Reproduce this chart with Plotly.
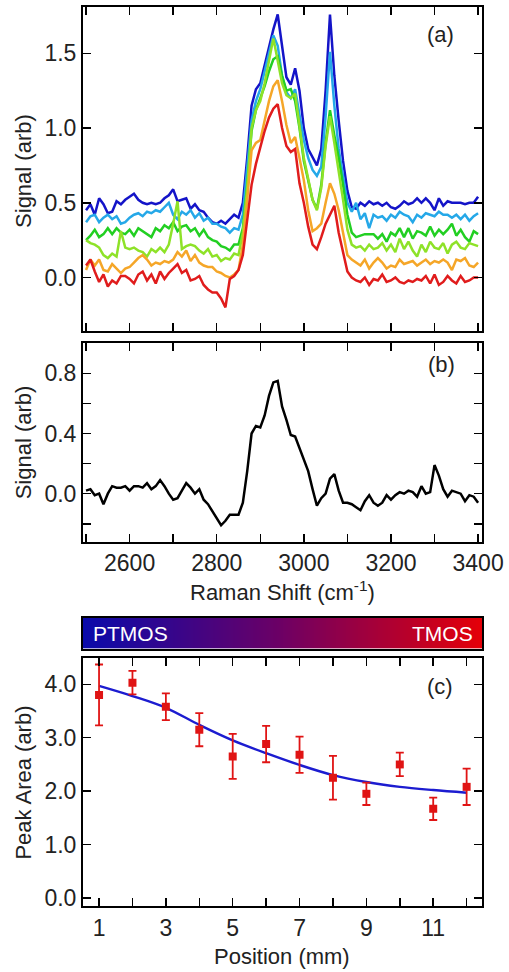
import plotly.graph_objects as go

# ---------------- data ----------------
SHIFT = list(range(2500, 3401, 10))  # Raman shift (cm-1)

BLUE = [0.45, 0.49, 0.42, 0.53, 0.49, 0.43, 0.44, 0.51, 0.49, 0.52, 0.54, 0.56, 0.52, 0.50, 0.49, 0.50, 0.49, 0.50,
        0.53, 0.55, 0.59, 0.51, 0.52, 0.53, 0.46, 0.49, 0.45, 0.44, 0.40, 0.37, 0.36, 0.38, 0.36, 0.39, 0.42,
        0.40, 0.50, 0.80, 1.15, 1.26, 1.30, 1.42, 1.55, 1.66, 1.76, 1.55, 1.34, 1.29, 1.40, 1.25, 1.00, 0.86, 0.80,
        0.75, 0.86, 1.25, 1.76, 1.35, 1.05, 0.78, 0.58, 0.47, 0.46,
        0.50, 0.48, 0.51, 0.49, 0.50, 0.48, 0.50, 0.47, 0.46, 0.48, 0.51, 0.49, 0.50, 0.53, 0.50, 0.53, 0.50, 0.45,
        0.53, 0.48, 0.51, 0.50, 0.50, 0.50, 0.49, 0.50, 0.50, 0.54]
LTBLUE = [0.37, 0.41, 0.42, 0.37, 0.40, 0.42, 0.39, 0.41, 0.36, 0.37, 0.40, 0.42, 0.43, 0.41, 0.44, 0.43, 0.45, 0.44,
          0.47, 0.50, 0.42, 0.39, 0.44, 0.42, 0.45, 0.40, 0.43, 0.38, 0.40, 0.36, 0.36, 0.34, 0.33, 0.30, 0.33,
          0.32, 0.42, 0.72, 1.05, 1.18, 1.26, 1.38, 1.50, 1.62, 1.55, 1.35, 1.24, 1.20, 1.26, 1.10, 0.92, 0.80, 0.72,
          0.68, 0.74, 1.08, 1.51, 1.15, 0.86, 0.68, 0.50, 0.44, 0.50,
          0.39, 0.43, 0.33, 0.42, 0.40, 0.41, 0.38, 0.42, 0.40, 0.44, 0.42, 0.41, 0.37, 0.42, 0.40, 0.43, 0.42, 0.41,
          0.44, 0.42, 0.42, 0.40, 0.42, 0.39, 0.42, 0.38, 0.41, 0.43]
GREEN = [0.25, 0.28, 0.32, 0.27, 0.29, 0.33, 0.29, 0.33, 0.30, 0.29, 0.32, 0.28, 0.33, 0.31, 0.29, 0.27, 0.33, 0.31,
         0.35, 0.33, 0.37, 0.31, 0.34, 0.35, 0.31, 0.33, 0.28, 0.32, 0.27, 0.25, 0.24, 0.21, 0.20, 0.18, 0.22,
         0.22, 0.33, 0.62, 0.98, 1.12, 1.20, 1.28, 1.38, 1.46, 1.48, 1.35, 1.25, 1.26, 1.18, 1.00, 0.78, 0.65, 0.52,
         0.46, 0.62, 0.90, 1.12, 0.95, 0.80, 0.62, 0.42, 0.30, 0.27,
         0.28, 0.29, 0.29, 0.29, 0.26, 0.29, 0.24, 0.30, 0.28, 0.33, 0.27, 0.33, 0.26, 0.31, 0.30, 0.28, 0.34, 0.28,
         0.32, 0.29, 0.32, 0.36, 0.28, 0.32, 0.27, 0.24, 0.31, 0.29]
LTGREEN = [0.25, 0.23, 0.22, 0.20, 0.15, 0.13, 0.16, 0.14, 0.31, 0.20, 0.19, 0.20, 0.18, 0.17, 0.14, 0.19, 0.17, 0.20,
           0.17, 0.22, 0.36, 0.51, 0.19, 0.21, 0.22, 0.21, 0.18, 0.16, 0.19, 0.14, 0.15, 0.11, 0.13, 0.12, 0.16,
           0.15, 0.30, 0.60, 1.00, 1.12, 1.18, 1.30, 1.45, 1.60, 1.45, 1.30, 1.22, 1.20, 1.23, 1.02, 0.80, 0.66, 0.52,
           0.45, 0.60, 0.88, 1.08, 0.90, 0.72, 0.52, 0.32, 0.22, 0.20,
           0.21, 0.18, 0.22, 0.19, 0.20, 0.23, 0.18, 0.22, 0.17, 0.26, 0.19, 0.24, 0.18, 0.14, 0.22, 0.17, 0.24, 0.20,
           0.19, 0.23, 0.16, 0.22, 0.24, 0.20, 0.19, 0.23, 0.22, 0.21]
ORANGE = [0.05, 0.12, 0.08, 0.12, 0.05, 0.04, 0.09, 0.06, 0.03, 0.06, 0.07, 0.10, 0.13, 0.15, 0.12, 0.08, 0.10, 0.09,
          0.11, 0.10, 0.12, 0.17, 0.14, 0.18, 0.11, 0.15, 0.10, 0.08, 0.07, 0.07, 0.04, 0.03, 0.01, 0.00, 0.02,
          0.05, 0.22, 0.52, 0.85, 0.90, 0.92, 1.05, 1.18, 1.28, 1.32, 1.18, 1.02, 0.90, 0.94, 0.80, 0.65, 0.45, 0.31,
          0.33, 0.36, 0.50, 0.63, 0.56, 0.45, 0.30, 0.15, 0.12, 0.10,
          0.08, 0.12, 0.06, 0.10, 0.13, 0.10, 0.06, 0.08, 0.07, 0.12, 0.09, 0.10, 0.11, 0.08, 0.10, 0.12, 0.09, 0.11,
          0.10, 0.12, 0.10, 0.05, 0.12, 0.11, 0.13, 0.08, 0.07, 0.10]
RED = [0.08, 0.12, 0.04, -0.03, 0.02, -0.06, -0.02, -0.04, 0.01, 0.01, -0.01, -0.04, 0.02, 0.04, -0.02, 0.02, -0.04, 0.04,
       -0.01, 0.03, 0.06, 0.09, 0.03, 0.05, -0.02, -0.01, 0.01, -0.05, -0.08, -0.10, -0.10, -0.14, -0.20, -0.01, 0.01,
       0.05, 0.15, 0.38, 0.62, 0.76, 0.88, 0.98, 1.07, 1.13, 1.16, 1.00, 0.88, 0.84, 0.86, 0.63, 0.50, 0.34, 0.22,
       0.19, 0.27, 0.36, 0.42, 0.48, 0.30, 0.18, 0.04, 0.00, -0.02,
       -0.03, 0.00, -0.05, -0.01, -0.02, 0.02, -0.03, -0.02, 0.00, -0.03, -0.04, -0.02, -0.03, -0.01, -0.02, 0.01, -0.04, 0.02,
       -0.05, -0.03, 0.01, -0.02, -0.04, 0.01, -0.03, -0.02, 0.00, 0.00]
DIFF = [0.02, 0.03, -0.01, 0.00, -0.07, 0.00, 0.05, 0.04, 0.04, 0.05, 0.02, 0.05, 0.05, 0.04, 0.07, 0.03, 0.05, 0.09,
        0.05, 0.00, -0.04, -0.03, 0.02, 0.07, 0.04, 0.00, 0.03, -0.04, -0.07, -0.12, -0.17, -0.21, -0.18, -0.14, -0.14,
        -0.14, -0.06, 0.15, 0.40, 0.45, 0.44, 0.52, 0.65, 0.74, 0.75, 0.58, 0.49, 0.39, 0.38, 0.30, 0.22, 0.15, 0.03,
        -0.08, -0.03, 0.00, 0.10, 0.13, 0.02, -0.06, -0.06, -0.07, -0.09,
        -0.11, -0.05, -0.01, -0.06, -0.08, -0.06, -0.01, -0.04, -0.01, 0.01, 0.00, 0.02, 0.01, -0.02, 0.05, 0.00, 0.01, 0.19,
        0.12, 0.03, -0.02, 0.02, 0.01, 0.00, -0.05, -0.01, -0.02, -0.06]

SERIES = [("BLUE", BLUE, "#1414c8"), ("LTBLUE", LTBLUE, "#25a8e8"), ("GREEN", GREEN, "#22cf22"),
          ("LTGREEN", LTGREEN, "#8ee228"), ("ORANGE", ORANGE, "#f5a628"), ("RED", RED, "#e01c1c")]

POSITION = [1, 2, 3, 4, 5, 6, 7, 8, 9, 10, 11, 12]
AREA = [3.80, 4.03, 3.58, 3.15, 2.65, 2.88, 2.68, 2.25, 1.95, 2.50, 1.67, 2.08]
AREA_ERR = [0.57, 0.22, 0.25, 0.31, 0.42, 0.34, 0.34, 0.41, 0.21, 0.22, 0.21, 0.34]
FIT = [3.97, 3.78, 3.56, 3.24, 2.95, 2.71, 2.49, 2.30, 2.17, 2.08, 2.02, 1.97]

GRADIENT = list(range(200))

# ---------------- figure ----------------
W, H = 509, 972
ML, MR, MT, MB = 83, 25, 5, 66
PW, PH = W - ML - MR, H - MT - MB


def px(x):
    return (x - ML) / PW


def py(y):
    return (H - MB - y) / PH


FONT = "Liberation Sans, Arial, sans-serif"
TXT = "#222222"

fig = go.Figure()
for name, vals, col in SERIES:
    fig.add_trace(go.Scatter(x=SHIFT, y=vals, mode="lines", name=name,
                             line=dict(color=col, width=2.5), xaxis="x", yaxis="y"))
fig.add_trace(go.Scatter(x=SHIFT, y=DIFF, mode="lines", line=dict(color="black", width=2.5),
                         xaxis="x2", yaxis="y2"))
fig.add_trace(go.Heatmap(z=[GRADIENT], colorscale=[[0, "rgb(10,10,170)"], [0.5, "rgb(110,0,100)"], [1, "rgb(228,0,8)"]],
                         showscale=False, xaxis="x3", yaxis="y3", hoverinfo="skip"))
fig.add_trace(go.Scatter(x=POSITION, y=FIT, mode="lines", line=dict(color="#1c1cd0", width=2.4, shape="spline"),
                         xaxis="x4", yaxis="y4"))
fig.add_trace(go.Scatter(x=POSITION, y=AREA, mode="markers",
                         marker=dict(symbol="square", size=8, color="#e01414"),
                         error_y=dict(type="data", array=AREA_ERR, color="#e01414", thickness=1.8, width=4),
                         xaxis="x4", yaxis="y4"))

ax = dict(showline=True, linecolor="black", linewidth=2, mirror="ticks", ticks="inside", ticklen=8,
          tickwidth=1.5, tickcolor="black", showgrid=False, zeroline=False,
          tickfont=dict(family=FONT, size=23, color=TXT))

ya_dom = [py(330), py(5)]
yb_dom = [py(541), py(342)]
yc_dom = [py(648), py(617)]
yd_dom = [py(906), py(657)]

fig.update_layout(
    width=W, height=H, margin=dict(l=ML, r=MR, t=MT, b=MB),
    paper_bgcolor="white", plot_bgcolor="white", showlegend=False,
    xaxis=dict(ax, domain=[0, 1], range=[2493, 3409], tickvals=list(range(2500, 3401, 100)),
               showticklabels=False, anchor="y"),
    yaxis=dict(ax, domain=ya_dom, range=[-0.36, 1.81], tickvals=[0, 0.5, 1.0, 1.5],
               ticktext=["0.0", "0.5", "1.0", "1.5"], anchor="x"),
    xaxis2=dict(ax, domain=[0, 1], range=[2493, 3409], tickvals=list(range(2500, 3401, 100)),
                ticktext=["", "2600", "", "2800", "", "3000", "", "3200", "", "3400"], anchor="y2"),
    yaxis2=dict(ax, domain=yb_dom, range=[-0.32, 1.0], tickvals=[-0.2, 0, 0.2, 0.4, 0.6, 0.8],
                ticktext=["", "0.0", "", "0.4", "", "0.8"], anchor="x2"),
    xaxis3=dict(domain=[0, 1], range=[-0.5, 199.5], showline=True, mirror=True, linecolor="black",
                linewidth=2, showticklabels=False, ticks="", showgrid=False, zeroline=False, anchor="y3"),
    yaxis3=dict(domain=yc_dom, range=[-0.5, 0.5], showline=True, mirror=True, linecolor="black",
                linewidth=2, showticklabels=False, ticks="", showgrid=False, zeroline=False, anchor="x3"),
    xaxis4=dict(ax, domain=[0, 1], range=[0.52, 12.46], tickvals=POSITION,
                ticktext=["1", "", "3", "", "5", "", "7", "", "9", "", "11", ""], anchor="y4"),
    yaxis4=dict(ax, domain=yd_dom, range=[-0.15, 4.5], tickvals=[0, 1, 2, 3, 4],
                ticktext=["0.0", "1.0", "2.0", "3.0", "4.0"], anchor="x4"),
)

ann = [
    ("Signal (arb)", 23, 169, -90, 22, TXT),
    ("Signal (arb)", 23, 441, -90, 22, TXT),
    ("Peak Area (arb)", 23, 782, -90, 22, TXT),
    ("Raman Shift (cm<sup>-1</sup>)", 283, 590, 0, 22, TXT),
    ("Position (mm)", 283, 957, 0, 22, TXT),
    ("(a)", 442, 33, 0, 22, TXT),
    ("(b)", 443, 363, 0, 22, TXT),
    ("(c)", 442, 686, 0, 22, TXT),
]
for text, x, y, ang, size, col in ann:
    fig.add_annotation(text=text, x=px(x), y=py(y), xref="paper", yref="paper", showarrow=False,
                       textangle=ang, xanchor="center", yanchor="middle",
                       font=dict(family=FONT, size=size, color=col))
fig.add_annotation(text="PTMOS", x=px(91), y=py(633), xref="paper", yref="paper", showarrow=False,
                   xanchor="left", yanchor="middle", font=dict(family=FONT, size=21, color="white"))
fig.add_annotation(text="TMOS", x=px(477), y=py(633), xref="paper", yref="paper", showarrow=False,
                   xanchor="right", yanchor="middle", font=dict(family=FONT, size=21, color="white"))

fig.write_html("out.html", config={"displayModeBar": False, "staticPlot": True},
               post_script="document.body.style.margin='0';document.body.style.overflow='hidden';")
